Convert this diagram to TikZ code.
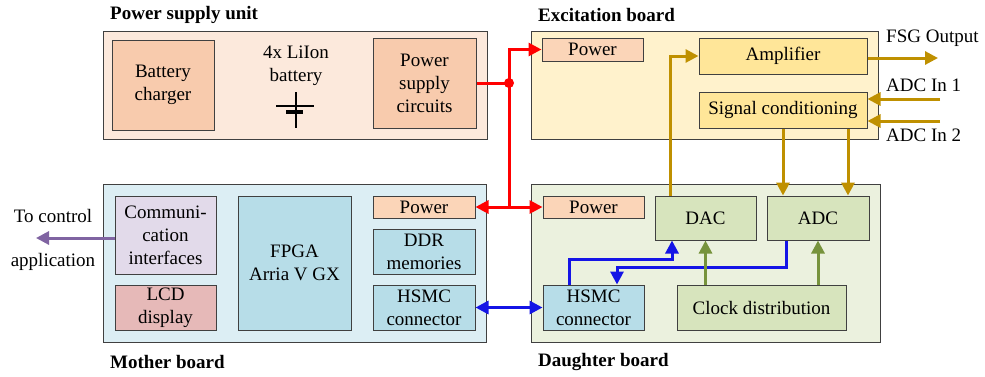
\documentclass[tikz,border=0pt]{standalone}
\usepackage{fontspec}
\setmainfont{Liberation Serif}
\usetikzlibrary{arrows.meta,calc}

\definecolor{psuback}{HTML}{FCE9DC}
\definecolor{peach}{HTML}{F8CBAD}
\definecolor{pwrfill}{HTML}{FBD5B8}
\definecolor{excback}{HTML}{FFF2CC}
\definecolor{excbox}{HTML}{FFE699}
\definecolor{mback}{HTML}{DCEEF4}
\definecolor{mbox}{HTML}{B7DDE8}
\definecolor{commfill}{HTML}{E2DAEA}
\definecolor{lcdfill}{HTML}{E6B9B8}
\definecolor{dback}{HTML}{EBF1DE}
\definecolor{dbox}{HTML}{D7E4BD}
\definecolor{edge}{HTML}{404040}
\definecolor{pwrline}{HTML}{FF0000}
\definecolor{dataline}{HTML}{1414E6}
\definecolor{sigline}{HTML}{BF9000}
\definecolor{clkline}{HTML}{77933C}
\definecolor{ctrlline}{HTML}{8064A2}

\tikzset{
  board/.style={draw=edge, line width=1pt, inner sep=0pt},
  unit/.style={draw=edge, line width=1pt, inner sep=0pt, align=center,
    font=\fontsize{19}{23}\selectfont},
  title/.style={anchor=west, inner sep=0pt, font=\fontsize{19}{23}\selectfont\bfseries},
  label/.style={inner sep=0pt, font=\fontsize{19}{23}\selectfont},
  wire/.style={line width=3pt},
  tip/.style={wire, -{Triangle[length=13pt,width=13pt]}},
  tips/.style={wire, {Triangle[length=13pt,width=13pt]}-{Triangle[length=13pt,width=13pt]}},
}

\begin{document}
\begin{tikzpicture}[x=1pt, y=-1pt]
\useasboundingbox (0,0) rectangle (985,376);

% ---- boards ----
\node[board, fill=psuback, minimum width=384, minimum height=108] (psu) at (295,85) {};
\node[board, fill=excback, minimum width=347, minimum height=108] (exc) at (704.5,85) {};
\node[board, fill=mback,   minimum width=383, minimum height=158] (mb)  at (294.5,263) {};
\node[board, fill=dback,   minimum width=349, minimum height=158] (db)  at (705.5,263) {};

\node[title] (tpsu) at (110,15)  {Power supply unit};
\node[title] (texc) at (538,15)  {Excitation board};
\node[title] (tmb)  at (110,362) {Mother board};
\node[title] (tdb)  at (538,362) {Daughter board};

% ---- power supply unit ----
\node[unit, fill=peach, minimum width=102, minimum height=90] (charger) at (163,85) {Battery\\charger};
\node[unit, fill=peach, minimum width=103, minimum height=90] (psc) at (424.5,83) {Power\\supply\\circuits};
\node[label, align=center] (battxt) at (296,65.5) {4x LiIon\\battery};
% battery cell symbol
\draw[line width=1.5pt] (296,92) -- (296,128);
\draw[line width=2pt] (276,106) -- (314,106);
\draw[line width=4.5pt] (286,112) -- (303,112);

% ---- excitation board ----
\node[unit, fill=pwrfill, minimum width=101, minimum height=23] (epower) at (592.5,49.5) {Power};
\node[unit, fill=excbox, minimum width=168, minimum height=36] (amp) at (783,56) {Amplifier};
\node[unit, fill=excbox, minimum width=168, minimum height=36] (sigc) at (783,110) {Signal conditioning};

\node[label, anchor=west] (fsgtxt) at (886,38)  {FSG Output};
\node[label, anchor=west] (in1txt) at (886,85)  {ADC In 1};
\node[label, anchor=west] (in2txt) at (886,135) {ADC In 2};

% ---- mother board ----
\node[unit, fill=commfill, minimum width=101, minimum height=78] (comm) at (165.5,235) {Communi-\\cation\\interfaces};
\node[unit, fill=lcdfill, minimum width=101, minimum height=45] (lcd) at (165.5,307.5) {LCD\\display};
\node[unit, fill=mbox, minimum width=113, minimum height=134] (fpga) at (294.5,263) {FPGA\\Arria V GX};
\node[unit, fill=pwrfill, minimum width=102, minimum height=22] (mpower) at (424,207) {Power};
\node[unit, fill=mbox, minimum width=102, minimum height=45] (ddr) at (424,251.5) {DDR\\memories};
\node[unit, fill=mbox, minimum width=102, minimum height=45] (mhsmc) at (424,307.5) {HSMC\\connector};

\node[label] (ctrltxt1) at (53,216) {To control};
\node[label] (ctrltxt2) at (53,262) {application};

% ---- daughter board ----
\node[unit, fill=pwrfill, minimum width=101, minimum height=22] (dpower) at (593.5,207) {Power};
\node[unit, fill=dbox, minimum width=101, minimum height=44] (dac) at (705.5,218) {DAC};
\node[unit, fill=dbox, minimum width=102, minimum height=44] (adc) at (818,218) {ADC};
\node[unit, fill=mbox, minimum width=101, minimum height=45] (dhsmc) at (593.5,307.5) {HSMC\\connector};
\node[unit, fill=dbox, minimum width=169, minimum height=45] (clock) at (761.5,307.5) {Clock distribution};

% ---- helper coordinates ----
\coordinate (rj) at (509,83);
\coordinate (fsg) at (938,58);
\coordinate (in1) at (940,99);
\coordinate (in2) at (940,121);
\coordinate (ctrl) at (36,238);
\coordinate (dacin) at ([xshift=-35.5pt]dac.north);
\coordinate (adcin1) at ([xshift=-35pt]adc.north);
\coordinate (adcin2) at ([xshift=30pt]adc.north);
\coordinate (hsup) at ([xshift=-24.5pt]dhsmc.north);
\coordinate (hsdn) at ([xshift=23.5pt]dhsmc.north);
\coordinate (dacbus) at ([xshift=-33.5pt]dac.south);
\coordinate (adcbus) at ([xshift=-32pt]adc.south);

% ---- power distribution ----
\draw[wire, pwrline] (psc.east |- rj) -- (rj);
\draw[tip, pwrline] (rj) |- (epower.west);
\draw[wire, pwrline] (rj) -- (rj |- mpower.east);
\draw[tips, pwrline] (mpower.east) -- (dpower.west);
\fill[pwrline] (rj) circle (5pt);

% ---- data bus ----
\draw[tips, dataline] (mhsmc.east) -- (dhsmc.west);
\draw[tip, dataline] (hsup) -- ++(0,-25) -| (dacbus);
\draw[tip, dataline] (adcbus) -- ++(0,27) -| (hsdn);

% ---- clocks ----
\draw[tip, clkline] (clock.north -| dac.south) -- (dac.south);
\draw[tip, clkline] (clock.north -| adc.south) -- (adc.south);

% ---- analog signals ----
\draw[tip, sigline] (dacin) |- (amp.west);
\draw[tip, sigline] (amp.east |- fsg) -- (fsg);
\draw[tip, sigline] (in1) -- (in1 -| sigc.east);
\draw[tip, sigline] (in2) -- (in2 -| sigc.east);
\draw[tip, sigline] (adcin1 |- sigc.south) -- (adcin1);
\draw[tip, sigline] (adcin2 |- sigc.south) -- (adcin2);

% ---- control link ----
\draw[tip, ctrlline] (comm.west |- ctrl) -- (ctrl);
\end{tikzpicture}
\end{document}
